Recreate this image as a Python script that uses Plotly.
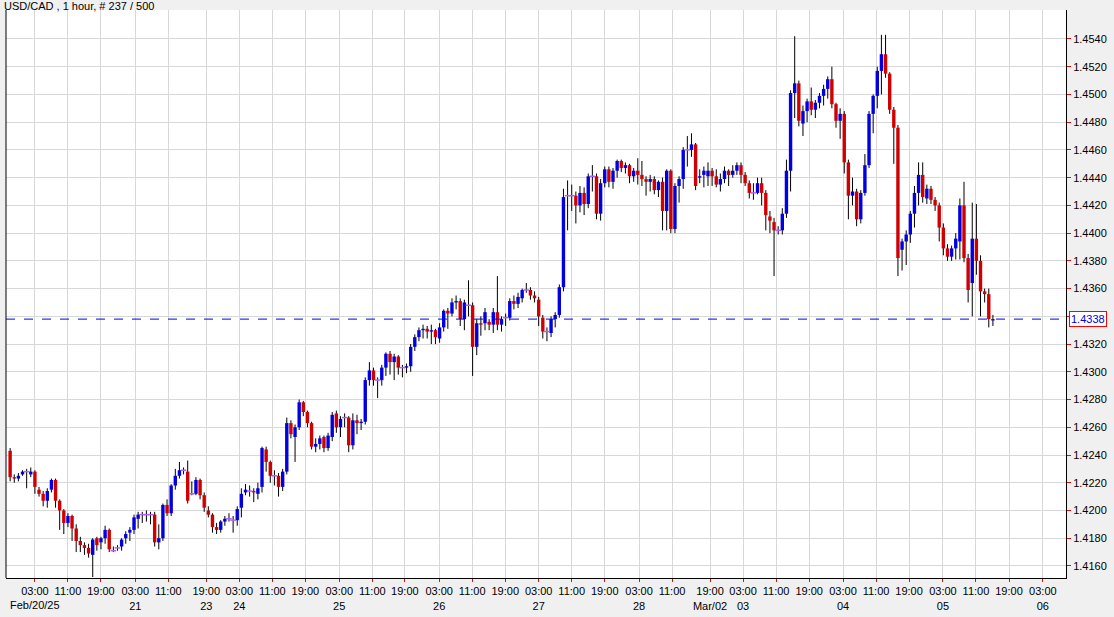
import plotly.graph_objects as go

# OHLC in pips (value 4243 -> 1.4243), hourly candles, index = candle number
opens = [4243,4224,4223,4226,4228,4226,4228,4215,4212,4207,4215,4222,4207,4200,4191,4196,4187,4178,4175,4173,
4168,4180,4177,4180,4186,4171,4173,4174,4180,4184,4186,4194,4197,4197,4197,4197,4177,4180,4204,4198,
4218,4225,4229,4228,4212,4212,4222,4211,4200,4197,4188,4186,4192,4194,4193,4193,4202,4213,4214,4214,
4212,4217,4244,4235,4225,4225,4217,4228,4263,4253,4260,4278,4271,4263,4246,4248,4253,4245,4253,4270,
4260,4267,4267,4247,4265,4263,4264,4294,4301,4294,4294,4303,4313,4307,4311,4303,4303,4304,4318,4325,
4330,4331,4329,4330,4324,4332,4344,4342,4350,4351,4338,4348,4348,4318,4335,4335,4336,4334,4343,4334,
4339,4339,4351,4349,4353,4359,4359,4355,4352,4339,4329,4328,4338,4341,4361,4427,4427,4427,4420,4429,
4421,4441,4441,4414,4436,4446,4437,4445,4452,4447,4449,4441,4445,4442,4439,4437,4439,4431,4437,4416,
4445,4403,4434,4439,4460,4460,4464,4440,4442,4441,4445,4441,4435,4439,4445,4442,4445,4449,4442,4436,
4429,4429,4436,4429,4412,4408,4402,4402,4414,4445,4501,4508,4479,4488,4495,4489,4494,4499,4504,4511,
4493,4481,4486,4451,4427,4430,4410,4429,4449,4486,4499,4517,4529,4515,4489,4476,4388,4394,4399,4414,
4429,4442,4425,4432,4424,4420,4404,4389,4383,4389,4394,4420,4382,4364,4396,4380,4358,4356,4337]
closes = [4224,4223,4225,4228,4228,4228,4217,4212,4207,4214,4222,4207,4200,4191,4196,4187,4178,4175,4173,4169,
4179,4175,4180,4186,4172,4171,4173,4179,4183,4186,4195,4197,4197,4197,4197,4177,4180,4204,4198,4218,
4225,4229,4229,4207,4212,4222,4211,4202,4197,4188,4186,4192,4194,4194,4193,4201,4212,4215,4214,4213,
4216,4245,4235,4225,4225,4217,4228,4263,4255,4260,4278,4271,4263,4246,4248,4252,4245,4254,4269,4260,
4266,4267,4247,4265,4263,4264,4294,4301,4294,4294,4303,4313,4307,4311,4303,4303,4304,4318,4325,4330,
4331,4329,4330,4325,4332,4344,4342,4350,4351,4338,4350,4348,4318,4335,4334,4343,4334,4343,4334,4338,
4339,4351,4349,4354,4359,4359,4355,4353,4340,4329,4329,4338,4341,4361,4426,4427,4427,4420,4429,4421,
4441,4441,4414,4436,4446,4437,4445,4452,4447,4449,4441,4445,4442,4439,4437,4439,4431,4437,4416,4445,
4403,4434,4439,4460,4460,4464,4434,4441,4445,4445,4441,4435,4439,4445,4442,4445,4449,4442,4436,4429,
4429,4436,4429,4413,4409,4402,4402,4414,4445,4501,4508,4481,4488,4495,4489,4494,4499,4504,4511,4493,
4481,4486,4451,4427,4430,4410,4429,4449,4486,4499,4517,4529,4515,4489,4476,4382,4394,4399,4414,4429,
4442,4426,4432,4424,4420,4404,4389,4383,4389,4396,4420,4382,4359,4396,4380,4358,4356,4338,4338]
highs = [4245,4226,4227,4229,4230,4231,4229,4217,4214,4216,4223,4223,4208,4201,4198,4197,4190,4181,4177,4176,
4180,4181,4181,4189,4187,4174,4175,4180,4185,4188,4197,4199,4199,4200,4199,4199,4190,4205,4208,4219,
4230,4235,4231,4236,4221,4224,4223,4213,4203,4198,4191,4193,4196,4198,4196,4203,4216,4219,4218,4216,
4220,4246,4246,4236,4229,4227,4230,4267,4265,4262,4280,4279,4272,4264,4252,4254,4254,4256,4271,4272,
4268,4270,4268,4270,4269,4266,4296,4307,4303,4296,4305,4314,4315,4313,4312,4305,4306,4320,4327,4332,
4334,4333,4334,4331,4335,4345,4346,4353,4355,4353,4352,4366,4350,4338,4340,4346,4338,4346,4369,4340,
4342,4353,4355,4357,4360,4364,4361,4358,4354,4341,4332,4340,4343,4363,4432,4438,4435,4430,4434,4433,
4443,4449,4443,4439,4448,4448,4447,4453,4453,4451,4450,4447,4454,4452,4441,4442,4441,4438,4440,4446,
4446,4436,4441,4462,4470,4472,4465,4446,4448,4451,4447,4446,4443,4448,4446,4449,4451,4451,4444,4438,
4436,4440,4440,4431,4416,4411,4405,4418,4453,4503,4542,4510,4492,4497,4505,4496,4501,4507,4513,4520,
4494,4490,4488,4453,4440,4432,4431,4457,4488,4500,4520,4543,4543,4516,4491,4478,4396,4402,4416,4434,
4451,4451,4435,4434,4426,4422,4407,4392,4391,4400,4425,4437,4385,4422,4421,4384,4360,4360,4341]
lows = [4221,4220,4221,4225,4216,4224,4212,4210,4203,4202,4213,4202,4186,4183,4188,4178,4170,4170,4168,4166,
4152,4171,4172,4176,4170,4170,4171,4171,4176,4178,4183,4187,4191,4192,4190,4174,4172,4178,4196,4196,
4215,4223,4226,4205,4211,4211,4208,4199,4195,4184,4183,4184,4189,4192,4184,4189,4195,4211,4210,4206,
4208,4213,4228,4220,4218,4210,4214,4226,4252,4235,4258,4268,4260,4244,4242,4244,4242,4243,4250,4256,
4253,4260,4242,4244,4255,4258,4262,4290,4290,4281,4290,4297,4298,4294,4298,4296,4299,4300,4315,4322,
4324,4324,4320,4320,4321,4329,4331,4340,4345,4333,4330,4340,4297,4312,4326,4330,4330,4328,4330,4329,
4333,4337,4345,4346,4350,4357,4352,4350,4333,4324,4322,4325,4332,4339,4358,4402,4416,4407,4415,4413,
4418,4430,4410,4409,4433,4433,4432,4440,4444,4443,4436,4437,4435,4434,4427,4430,4428,4426,4402,4402,
4400,4400,4422,4432,4448,4455,4431,4436,4433,4434,4434,4433,4430,4436,4434,4440,4442,4436,4434,4425,
4424,4428,4420,4402,4400,4369,4399,4399,4411,4430,4483,4477,4470,4480,4485,4483,4490,4492,4497,4490,
4476,4468,4443,4410,4420,4405,4407,4427,4447,4472,4490,4500,4512,4486,4450,4369,4373,4377,4393,4404,
4420,4422,4421,4421,4416,4394,4384,4380,4380,4381,4381,4379,4350,4340,4370,4340,4350,4332,4333]

last_price = 4338
y_ticks = [4160,4180,4200,4220,4240,4260,4280,4300,4320,4340,4360,4380,4400,4420,4440,4460,4480,4500,4520,4540]
x_tick_pos = [6,14,22,30.3,38.3,47.5,55.5,63.5,71.5,79.7,87.7,95.6,103.9,111.9,119.9,128,136,144,152.3,160.3,
              169.5,177.5,185.5,193.5,201.7,209.7,217.7,225.9,233.9,241.9,250.1]
x_tick_time = ["03:00","11:00","19:00","03:00","11:00","19:00","03:00","11:00","19:00","03:00","11:00","19:00",
               "03:00","11:00","19:00","03:00","11:00","19:00","03:00","11:00","19:00","03:00","11:00","19:00",
               "03:00","11:00","19:00","03:00","11:00","19:00","03:00"]
x_tick_date = ["","","","21","","23","24","","","25","","","26","","","27","","","28","","Mar/02","03","","",
               "04","","","05","","","06"]
title = "USD/CAD , 1 hour, # 237 / 500"

def p(v):
    return 1 + v / 10000.0

n = len(closes)
idx = list(range(n))
BLUE, RED = "#0000e0", "#d00000"

wx, wy = [], []
up_x, up_y, dn_x, dn_y = [], [], [], []
dj_x, dj_y, dj_c = [], [], []
for i in idx:
    wx += [i, i, None]; wy += [p(highs[i]), p(lows[i]), None]
    if opens[i] == closes[i]:
        dj_x.append(i); dj_y.append(p(closes[i])); dj_c.append(RED)
    elif closes[i] > opens[i]:
        up_x += [i, i, None]; up_y += [p(opens[i]), p(closes[i]), None]
    else:
        dn_x += [i, i, None]; dn_y += [p(opens[i]), p(closes[i]), None]

fig = go.Figure()
fig.add_trace(go.Scatter(x=wx, y=wy, mode="lines", line=dict(color="black", width=1), hoverinfo="skip"))
fig.add_trace(go.Scatter(x=up_x, y=up_y, mode="lines", line=dict(color=BLUE, width=3.4), hoverinfo="skip"))
fig.add_trace(go.Scatter(x=dn_x, y=dn_y, mode="lines", line=dict(color=RED, width=3.4), hoverinfo="skip"))
fig.add_trace(go.Scatter(x=dj_x, y=dj_y, mode="markers",
                         marker=dict(symbol="line-ew-open", size=4, line=dict(color=dj_c, width=1.5)), hoverinfo="skip"))

fig.add_hline(y=p(last_price), line=dict(color=BLUE, width=1, dash="dash"))
fig.add_annotation(x=1, xref="paper", xanchor="left", xshift=3, y=p(last_price), yref="y",
                   text="%.4f" % p(last_price), showarrow=False, font=dict(color=BLUE, size=11),
                   bgcolor="white", bordercolor="red", borderwidth=1, borderpad=1)
fig.add_annotation(x=0, xref="paper", y=0, yref="paper", text="Feb/20/25", showarrow=False,
                   xanchor="left", yanchor="top", xshift=2, yshift=-19, font=dict(size=11, color="black"))
fig.add_annotation(x=0, xref="paper", y=1, yref="paper", text=title, showarrow=False,
                   xanchor="left", yanchor="bottom", xshift=-4, yshift=-4, font=dict(size=11, color="black"))

ticktext = [t + "<br>" + (d if d else " ") for t, d in zip(x_tick_time, x_tick_date)]
fig.update_layout(
    width=1114, height=617, showlegend=False,
    margin=dict(l=6, r=48, t=10, b=39, autoexpand=False),
    paper_bgcolor="#f0f0f0", plot_bgcolor="white",
    font=dict(family="Liberation Sans, Arial, sans-serif", size=11, color="black"),
    xaxis=dict(range=[-1, 255.7], tickvals=x_tick_pos, ticktext=ticktext, showgrid=True, automargin=False,
               gridcolor="#d8d8d8", gridwidth=1, zeroline=False, showline=True, linecolor="black",
               ticks="outside", ticklen=3, tickcolor="red", tickangle=0),
    yaxis=dict(side="right", range=[p(4151.3), p(4560.9)], tickvals=[p(v) for v in y_ticks], automargin=False,
               ticktext=["%.4f" % p(v) for v in y_ticks], showgrid=True, gridcolor="#d8d8d8",
               zeroline=False, showline=True, linecolor="black", ticks="outside", ticklen=4,
               tickcolor="red"),
)
fig.add_shape(type="line", xref="paper", yref="paper", x0=0, x1=0, y0=0, y1=1, line=dict(color="black", width=1))
fig.write_html("out.html", config={"displayModeBar": False},
               post_script="document.body.style.margin='0';document.body.style.overflow='hidden';")
